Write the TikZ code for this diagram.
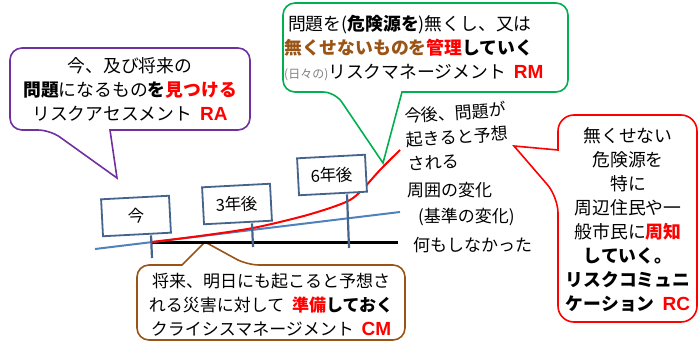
\documentclass[tikz,border=0pt]{standalone}
\usepackage{fontspec}
\setmainfont{Noto Sans CJK JP}
\newfontfamily\latinfont{Liberation Sans}
\usepackage{xcolor}
\definecolor{rapurple}{RGB}{112,48,160}
\definecolor{rmgreen}{RGB}{0,176,80}
\definecolor{cmbrown}{RGB}{153,84,22}
\definecolor{poleblue}{RGB}{68,100,140}
\definecolor{trendblue}{RGB}{79,129,189}
\newcommand{\hot}[1]{\textcolor{red}{\textbf{#1}}}
\newcommand{\abbr}[1]{{\latinfont\bfseries\fontsize{19}{19}\selectfont\textcolor{red}{#1}}}

\begin{document}
\begin{tikzpicture}[x=1pt,y=-1pt,
  callout/.style={line width=1.6, rounded corners=12},
  yearbox/.style={draw=poleblue, line width=1.8, fill=white, minimum width=68, minimum height=37, inner sep=2, font=\fontsize{16.5}{16.5}\selectfont},
  pole/.style={draw=poleblue, line width=2.2},
  txt/.style={font=\fontsize{17}{24}\selectfont, align=center, inner sep=0},
  bigtxt/.style={txt, font=\fontsize{17.8}{24}\selectfont}]
\useasboundingbox (0,0) rectangle (700,344);

\draw[callout, draw=rapurple] (110,130) -- (250,130) -- (250,48) -- (10,48) -- (10,130) -- (50,130) [sharp corners] -- (117,178) -- cycle;
\draw[callout, draw=rmgreen] (402,92) -- (568,92) -- (568,3) -- (283,3) -- (283,92) -- (335,92) [sharp corners] -- (383,163) -- cycle;
\draw[callout, draw=red, rounded corners=16] (558,150) -- (558,115) -- (697,115) -- (697,322) -- (558,322) -- (558,197) [sharp corners] -- (514,146) -- cycle;
\draw[callout, draw=cmbrown] (182,265) -- (137,265) -- (137,340) -- (405,340) -- (405,265) -- (247,265) [sharp corners] -- (205,242) -- cycle;

\coordinate (base0) at (152,243);
\coordinate (base1) at (398,243);
\coordinate (trend0) at (95,249);
\coordinate (trend1) at (400,212);
\draw[line width=3] (base0) -- (base1);
\draw[trendblue, line width=2] (trend0) -- (trend1);
\draw[red, line width=2] plot[smooth] coordinates {(152,242) (200,236) (253,228) (300,217) (330,208) (350,200) (362,190) (380,170) (400,150)};

\node[yearbox, rotate=3] (now) at (136,216) {今};
\node[yearbox, rotate=3] (yr3) at (237,204) {3年後};
\node[yearbox, rotate=3] (yr6) at (332,175) {6年後};
\coordinate (nowfoot) at (152,258);
\coordinate (yr3foot) at (253,247);
\coordinate (yr6foot) at (349,248);
\draw[pole] ([xshift=14pt]now.south) -- (nowfoot);
\draw[pole] ([xshift=14pt]yr3.south) -- (yr3foot);
\draw[pole] ([xshift=14pt]yr6.south) -- (yr6foot);

\node[bigtxt] (ratext) at (130,89) {今、及び将来の\\\textbf{問題}になるもの\textbf{を}\hot{見つける}\\リスクアセスメント\ \ \abbr{RA}};
\node[bigtxt, align=left, anchor=west] (rmtext) at (284,48) {\ 問題を(\textbf{危険源を})無くし、又は\\\textcolor{cmbrown}{\textbf{無くせないものを}}\hot{管理}\textbf{していく}\\{\color{gray}\fontsize{12}{12}\selectfont(日々の)}リスクマネージメント\ \ \abbr{RM}};
\node[bigtxt] (rctext) at (628,220) {無くせない\\危険源を\\特に\\周辺住民や一\\般市民に\hot{周知}\\\textbf{していく。}\\\textbf{リスクコミュニ}\\\textbf{ケーション}\ \ \abbr{RC}};
\node[txt] (cmtext) at (271,305) {将来、明日にも起こると予想さ\\れる災害に対して\ \ \hot{準備}\textbf{しておく}\\クライシスマネージメント\ \ \abbr{CM}};

\node[txt, align=left, anchor=west, rotate=4] (risetext) at (406,140) {今後、問題が\\起きると予想\\される};
\node[txt, anchor=west] (changetext) at (407,190) {周囲の変化};
\node[txt, anchor=west] (normtext) at (418,217) {(基準の変化)};
\node[txt, anchor=west] (flattext) at (413,245) {何もしなかった};
\end{tikzpicture}
\end{document}
